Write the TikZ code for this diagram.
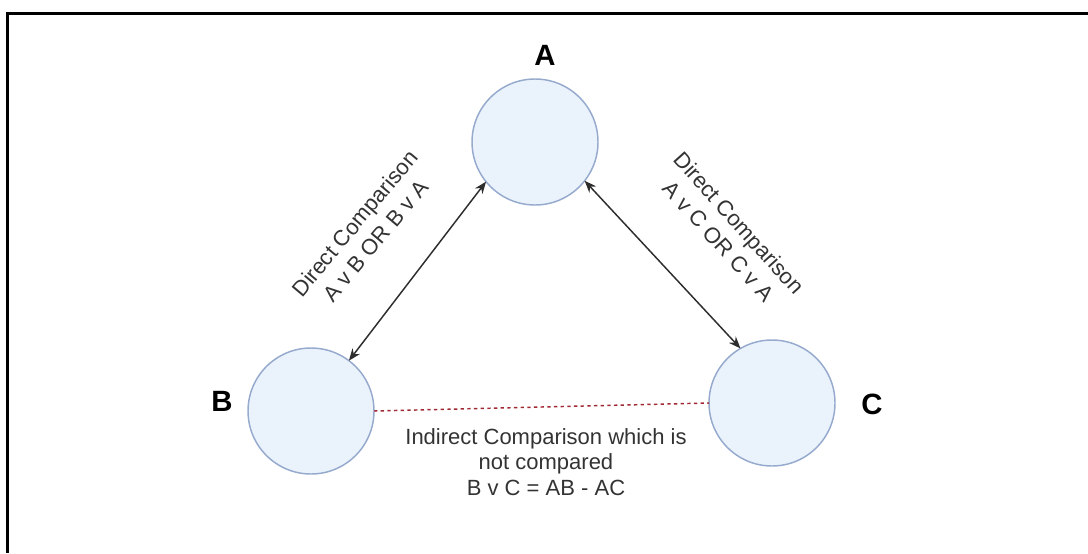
\documentclass[tikz,border=0pt]{standalone}
\usepackage{fontspec}
\setmainfont{Liberation Sans}
\usepackage{tikz}
\usetikzlibrary{arrows.meta}
\definecolor{bubbleFill}{RGB}{234,242,252}
\definecolor{bubbleLine}{RGB}{150,170,205}
\definecolor{arrowGray}{RGB}{45,45,45}
\definecolor{dashRed}{RGB}{160,40,50}

\begin{document}
\begin{tikzpicture}[x=0.75pt,y=0.75pt,yscale=-1,xscale=1,
  bubble/.style={circle,draw=bubbleLine,fill=bubbleFill,line width=1.1pt,minimum size=94.5pt,inner sep=0pt,outer sep=0pt},
  cmp/.style={draw=arrowGray,line width=1.1pt,{Stealth[length=9pt,width=7pt]}-{Stealth[length=9pt,width=7pt]}},
  lbl/.style={font=\fontsize{16.5}{19}\selectfont,align=center,inner sep=0.75pt,text=black!80},
  slant/.style={lbl,font=\fontsize{16.5}{20.5}\selectfont},
  corner/.style={font=\fontsize{22}{26}\selectfont\bfseries,inner sep=0.75pt}]
\useasboundingbox (0,0) rectangle (1088,553);
%Frame
\draw [line width=2.25pt] (1088,13) -- (7,13) -- (7,553) ;
%Shape: Circle
\draw (535,142) node [bubble] (A) {};
%Shape: Circle
\draw (311,411) node [bubble] (B) {};
%Shape: Circle
\draw (772,403) node [bubble] (C) {};
%Straight Lines
\draw [cmp] (A.-141) -- (B.53) ;
%Straight Lines
\draw [cmp] (A.-38) -- (C.120) ;
%Straight Lines
\draw [draw=dashRed,line width=1.1pt,dash pattern=on 2.5pt off 2.5pt] (B.east) -- (C.west) ;
% Text Node
\draw (545,55) node [corner] (labA) {A};
% Text Node
\draw (222,401) node [corner] (labB) {B};
% Text Node
\draw (872,404) node [corner] (labC) {C};
% Text Node
\draw (365,232) node [slant,rotate=50] (txtAB) {Direct Comparison\\A v B OR B v A};
% Text Node
\draw (729,232) node [slant,rotate=-48] (txtAC) {Direct Comparison\\A v C OR C v A};
% Text Node
\draw (546,462) node [lbl] (txtBC) {Indirect Comparison which is\\not compared\\B v C = AB - AC};
\end{tikzpicture}
\end{document}
